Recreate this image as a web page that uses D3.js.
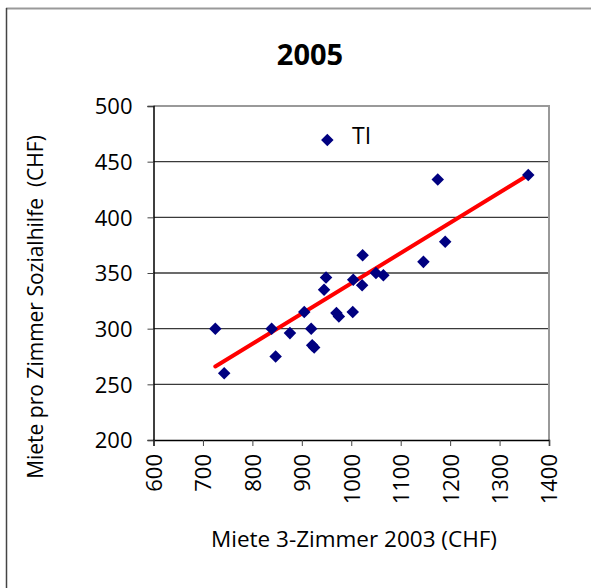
<!DOCTYPE html>
<html>
<head>
<meta charset="utf-8">
<script src="https://cdn.jsdelivr.net/npm/d3@7"></script>
<style>
  body { margin: 0; background: #fff; }
  text { font-family: "Open Sans", sans-serif; fill: #000; }
</style>
</head>
<body>
<div id="chart"></div>
<script>
// Miete 3-Zimmer 2003 (x) vs. Miete pro Zimmer Sozialhilfe (y)
const rent3 = [725, 743, 839, 847, 876, 905, 919, 921, 925, 945, 949, 970, 975,
               1003, 1004, 1022, 1023, 1050, 1065, 1146, 1175, 1190, 1358];
const rentSoz = [300, 260, 300, 275, 296, 315, 300, 285, 283, 335, 346, 314, 311,
                 315, 344, 339, 366, 350, 348, 360, 434, 378, 438];
// linear trend line end points
const trendX = [725, 1358];
const trendY = [266, 438];
const xTicks = [600, 700, 800, 900, 1000, 1100, 1200, 1300, 1400];
const yTicks = [200, 250, 300, 350, 400, 450, 500];
const seriesName = 'TI';

const width = 591, height = 588;
const margin = { top: 106, right: 42, bottom: 148, left: 153.5 };

const svg = d3.select('#chart')
              .append('svg')
              .attr('width', width)
              .attr('height', height);

// outer chart frame (only top and left show)
svg.append('line').attr('x1', 6).attr('x2', width).attr('y1', 8.5).attr('y2', 8.5)
   .attr('stroke', '#999').attr('stroke-width', 2);
svg.append('line').attr('x1', 6.5).attr('x2', 6.5).attr('y1', 8).attr('y2', height)
   .attr('stroke', '#444').attr('stroke-width', 1.5);

const x = d3.scaleLinear()
            .domain([600, 1400])
            .range([margin.left, width - margin.right]);

const y = d3.scaleLinear()
            .domain([200, 500])
            .range([height - margin.bottom, margin.top]);

// gridlines
const gridVals = yTicks.slice(1, -1);
gridVals.forEach(v => {
  svg.append('line')
     .attr('class', 'grid')
     .attr('x1', x(600))
     .attr('x2', x(1400))
     .attr('y1', y(v))
     .attr('y2', y(v))
     .style('stroke', '#3a3a3a')
     .style('stroke-width', '1.3px');
});

// plot area border (top + right)
svg.append('path')
   .attr('d', `M${x(600)},${y(500)}H${x(1400)}V${y(200)}`)
   .attr('fill', 'none')
   .attr('stroke', '#999')
   .attr('stroke-width', 2);

// axes
const yAxis = svg.append('g')
   .attr('transform', `translate(${x(600)},0)`)
   .call(d3.axisLeft(y).tickValues(yTicks).tickSize(6).tickPadding(15));
const xAxis = svg.append('g')
   .attr('transform', `translate(0,${y(200)})`)
   .call(d3.axisBottom(x).tickValues(xTicks).tickSize(6).tickFormat(d3.format('d')));

[yAxis, xAxis].forEach(a => {
  a.select('.domain').attr('stroke', '#000').attr('stroke-width', 1.5);
  a.selectAll('.tick line').attr('stroke', '#444');
  a.selectAll('text').attr('font-size', 22).attr('fill', '#111')
   .style('font-family', '"Open Sans", sans-serif');
});
yAxis.selectAll('text').attr('dy', '0.35em');
xAxis.selectAll('text')
     .attr('transform', 'rotate(-90)')
     .attr('text-anchor', 'end')
     .attr('x', -14)
     .attr('y', 0)
     .attr('dy', '0.36em');

// trend line
svg.append('line')
   .attr('x1', x(trendX[0])).attr('y1', y(trendY[0]))
   .attr('x2', x(trendX[1])).attr('y2', y(trendY[1]))
   .attr('stroke', '#ff0000')
   .attr('stroke-width', 4)
   .attr('stroke-linecap', 'round');

// points
const diamond = d3.symbol().type(d3.symbolDiamond2).size(100);
svg.append('g')
   .attr('fill', '#000080')
   .selectAll('path')
   .data(rent3.map((d, i) => [d, rentSoz[i]]))
   .join('path')
     .attr('d', diamond)
     .attr('transform', d => `translate(${x(d[0])},${y(d[1])})`);

// legend
svg.append('path')
   .attr('d', diamond)
   .attr('fill', '#000080')
   .attr('transform', 'translate(327.3,140)');
svg.append('text')
   .attr('x', 352)
   .attr('y', 144)
   .attr('font-size', 23)
   .attr('fill', '#111')
   .text(seriesName);

// title
svg.append('text')
   .attr('x', 310)
   .attr('y', 65)
   .attr('text-anchor', 'middle')
   .attr('font-size', 29)
   .attr('font-weight', 'bold')
   .text('2005');

// axis titles
svg.append('text')
   .attr('x', 354)
   .attr('y', 547)
   .attr('text-anchor', 'middle')
   .attr('font-size', 22.5)
   .attr('fill', '#111')
   .text('Miete 3-Zimmer 2003 (CHF)');

svg.append('text')
   .attr('transform', 'translate(43,307) rotate(-90)')
   .attr('text-anchor', 'middle')
   .attr('font-size', 21)
   .attr('fill', '#111')
   .style('white-space', 'pre')
   .text('Miete pro Zimmer Sozialhilfe  (CHF)');
</script>
</body>
</html>
